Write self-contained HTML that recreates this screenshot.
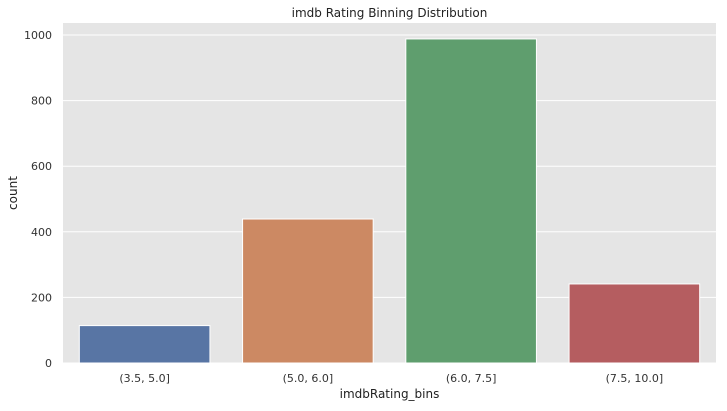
<!DOCTYPE html>
<html><head><meta charset="utf-8"><style>
body{margin:0;background:#fff;font-family:"DejaVu Sans","Liberation Sans",sans-serif;}
</style></head><body>
<svg id="c" width="727" height="407" xmlns="http://www.w3.org/2000/svg" font-family="DejaVu Sans, Liberation Sans, sans-serif"></svg>
<script>
const categories=["(3.5, 5.0]","(5.0, 6.0]","(6.0, 7.5]","(7.5, 10.0]"];
const counts=[114,439,988,241];
const colors=["#5875a4","#cc8963","#5f9e6e","#b55d60"];
const yTicks=[0,200,400,600,800,1000];
const L=63,R=716,T=23,B=363,yMax=1000,y1000=35;
const ns="http://www.w3.org/2000/svg";
const svg=document.getElementById('c');
function y(v){return B-(B-y1000)*v/yMax;}
const bw=(R-L)/categories.length;
function x(i){return L+bw*i;}
function mk(t,a,txt){const e=document.createElementNS(ns,t);for(const k in a)e.setAttribute(k,a[k]);if(txt!=null)e.textContent=txt;svg.appendChild(e);return e;}
let e=mk('rect',{x:L,y:T,width:R-L,height:B-T,fill:'#e5e5e5'});


yTicks.forEach(t=>{
 let g=mk('line',{x1:L,x2:R,y1:y(t),y2:y(t),stroke:'#fff','stroke-width':1});
 
 
 let l=mk('text',{x:L-11,y:y(t)+4,'text-anchor':'end','font-size':11,fill:'#333'},t);
 
 
});
categories.forEach((c,i)=>{
 const w=bw*0.8;
 let r=mk('rect',{x:x(i)+bw*0.1,y:y(counts[i]),width:w,height:B-y(counts[i]),fill:colors[i],stroke:'#fff','stroke-width':1});
 
 
 let l=mk('text',{x:x(i)+bw/2,y:B+19,'text-anchor':'middle','font-size':11,fill:'#333'},c);
 
 
});
e=mk('text',{x:(L+R)/2,y:17,'text-anchor':'middle','font-size':12,fill:'#222'},'imdb Rating Binning Distribution');


e=mk('text',{x:(L+R)/2,y:398,'text-anchor':'middle','font-size':12,fill:'#222'},'imdbRating_bins');


e=mk('text',{x:17,y:(T+B)/2,'text-anchor':'middle','font-size':12,fill:'#222',transform:'rotate(-90 17 '+((T+B)/2)+')'},'count');


</script>
</body></html>
